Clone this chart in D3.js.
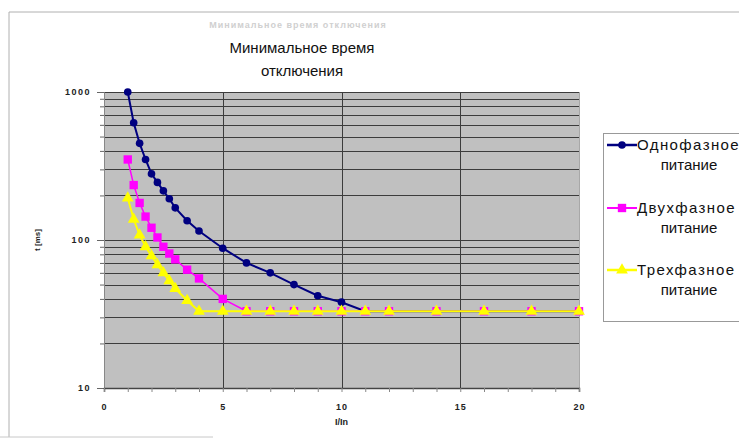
<!DOCTYPE html>
<html>
<head>
<meta charset="utf-8">
<script src="https://cdn.jsdelivr.net/npm/d3@7"></script>
<style>
  body { margin: 0; background: #fff; }
  svg { display: block; font-family: "Liberation Sans", Arial, sans-serif; }
</style>
</head>
<body>
<div id="chart"></div>
<script>
// Minimum trip time vs I/In, log time axis

const currentRatio = [1, 1.25, 1.5, 1.75, 2, 2.25, 2.5, 2.75, 3, 3.5, 4, 5, 6, 7, 8, 9, 10, 11, 12, 14, 16, 18, 20];
const singlePhase = [1000, 620, 450, 350, 280, 245, 215, 190, 165, 135, 115, 88, 70, 60, 50, 42, 38, 33, 33, 33, 33, 33, 33];
const twoPhase = [350, 235, 178, 144, 121, 104, 90, 81, 74, 63, 55, 40, 33, 33, 33, 33, 33, 33, 33, 33, 33, 33, 33];
const threePhase = [192, 138, 108, 90, 78, 68, 60, 53, 47, 39, 33, 33, 33, 33, 33, 33, 33, 33, 33, 33, 33, 33, 33];

const seriesNames = [["Однофазное", "питание"], ["Двухфазное", "питание"], ["Трехфазное", "питание"]];
const xTicks = [0, 5, 10, 15, 20];
const yTicks = [10, 100, 1000];

const width = 739, height = 440;
const plot = { left: 104, right: 579, top: 92, bottom: 388 };

const svg = d3.select("#chart").append("svg")
    .attr("width", width)
    .attr("height", height);

// outer chart frame
svg.append("path")
    .attr("d", "M9,437 L9,12 L745,12")
    .attr("fill", "none")
    .attr("stroke", "#b0b0b0");
svg.append("line")
    .attr("x1", 0).attr("x2", 213).attr("y1", 437).attr("y2", 437)
    .attr("stroke", "#c8c8c8");

const x = d3.scaleLinear().domain([0, 20]).range([plot.left, plot.right]);
const y = d3.scaleLog().domain([10, 1000]).range([plot.bottom, plot.top]);

svg.append("rect")
    .attr("x", plot.left).attr("y", plot.top)
    .attr("width", plot.right - plot.left)
    .attr("height", plot.bottom - plot.top)
    .attr("fill", "#c0c0c0");

// horizontal log grid lines
const gridValues = [];
[10, 100].forEach(dec => { for (let i = 1; i <= 9; i++) gridValues.push(dec * i); });
gridValues.push(1000);

svg.append("g").selectAll("line")
    .data(gridValues.filter(v => v > 10))
    .enter().append("line")
    .attr("x1", plot.left).attr("x2", plot.right)
    .attr("y1", d => Math.round(y(d)) + 0.5).attr("y2", d => Math.round(y(d)) + 0.5)
    .attr("stroke", "#3c3c3c")
    .attr("stroke-width", 1);

svg.append("g").selectAll("line")
    .data([5, 10, 15])
    .enter().append("line")
    .attr("x1", d => Math.round(x(d)) + 0.5).attr("x2", d => Math.round(x(d)) + 0.5)
    .attr("y1", plot.top).attr("y2", plot.bottom)
    .attr("stroke", "#3c3c3c");

// right border of plot
svg.append("line")
    .attr("x1", plot.right + 0.5).attr("x2", plot.right + 0.5)
    .attr("y1", plot.top).attr("y2", plot.bottom)
    .attr("stroke", "#a8a8a8");

// axes
const yAxis = d3.axisLeft(y)
    .tickValues(gridValues)
    .tickSize(4)
    .tickFormat(d => yTicks.includes(d) ? d : "");
const gy = svg.append("g")
    .attr("transform", `translate(${plot.left},0)`)
    .call(yAxis);
gy.selectAll(".tick line").attr("stroke", "#666")
    .attr("x2", d => yTicks.includes(d) ? -7 : -4);
gy.select(".domain").attr("stroke", "#888");
gy.selectAll("text")
    .attr("x", -13)
    .attr("font-size", 9)
    .attr("font-weight", "bold")
    .attr("letter-spacing", 1.5)
    .attr("fill", "#222");

const xAxis = d3.axisBottom(x)
    .tickValues(d3.range(0, 21))
    .tickSize(4)
    .tickFormat(d => xTicks.includes(d) ? d : "");
const gx = svg.append("g")
    .attr("transform", `translate(0,${plot.bottom})`)
    .call(xAxis);
gx.selectAll(".tick line").attr("stroke", "#888");
gx.select(".domain").attr("stroke", "#444").attr("stroke-width", 1.5);
gx.selectAll("text")
    .attr("y", 16)
    .attr("font-size", 9)
    .attr("font-weight", "bold")
    .attr("letter-spacing", 1)
    .attr("fill", "#222");

svg.append("text")
    .attr("x", (plot.left + plot.right) / 2)
    .attr("y", 425)
    .attr("text-anchor", "middle")
    .attr("font-size", 9)
    .attr("font-weight", "bold")
    .attr("fill", "#222")
    .text("I/In");

svg.append("text")
    .attr("transform", "translate(40,240) rotate(-90)")
    .attr("text-anchor", "middle")
    .attr("font-size", 8)
    .attr("font-weight", "bold")
    .attr("fill", "#222")
    .text("t [ms]");

// series
const series = [
    { values: singlePhase, color: "#000080", width: 2, shape: d3.symbolCircle, size: 46 },
    { values: twoPhase, color: "#ff00ff", width: 1.5, shape: d3.symbolSquare, size: 70 },
    { values: threePhase, color: "#ffff00", width: 2, shape: d3.symbolTriangle, size: 60 }
];

const line = d3.line()
    .x(d => x(d[0]))
    .y(d => y(d[1]));

series.forEach(s => {
    const pts = currentRatio.map((c, i) => [c, s.values[i]]);
    svg.append("path")
        .datum(pts)
        .attr("d", line)
        .attr("fill", "none")
        .attr("stroke", s.color)
        .attr("stroke-width", s.width);
    svg.append("g").selectAll("path")
        .data(pts)
        .enter().append("path")
        .attr("transform", d => `translate(${x(d[0])},${y(d[1])})`)
        .attr("d", d3.symbol().type(s.shape).size(s.size))
        .attr("fill", s.color);
});

// title (faint smaller caption peeking above the white box)
svg.append("text")
    .attr("x", 298).attr("y", 28)
    .attr("text-anchor", "middle")
    .attr("font-size", 9)
    .attr("font-weight", "bold")
    .attr("letter-spacing", 1)
    .attr("fill", "#d0d0d0")
    .text("Минимальное время отключения");
svg.append("rect")
    .attr("x", 200).attr("y", 30)
    .attr("width", 145).attr("height", 58)
    .attr("fill", "#fff");
svg.append("text")
    .attr("x", 302).attr("y", 53)
    .attr("text-anchor", "middle")
    .attr("font-size", 15)
    .attr("fill", "#111")
    .text("Минимальное время");
svg.append("text")
    .attr("x", 302).attr("y", 76)
    .attr("text-anchor", "middle")
    .attr("font-size", 15)
    .attr("fill", "#111")
    .text("отключения");

// legend
const legend = svg.append("g");
legend.append("rect")
    .attr("x", 603.5).attr("y", 133.5)
    .attr("width", 160).attr("height", 188)
    .attr("fill", "#fff")
    .attr("stroke", "#999");

const legendY = [145, 208, 270];
series.forEach((s, i) => {
    const g = legend.append("g").attr("transform", `translate(0,${legendY[i]})`);
    g.append("line")
        .attr("x1", 607).attr("x2", 637)
        .attr("stroke", s.color)
        .attr("stroke-width", s.width + 0.5);
    g.append("path")
        .attr("transform", "translate(622,0)")
        .attr("d", d3.symbol().type(s.shape).size(s.size))
        .attr("fill", s.color);
    g.append("text")
        .attr("x", 637).attr("y", 5)
        .attr("font-size", 15)
        .attr("letter-spacing", 1.4)
        .attr("fill", "#111")
        .text(seriesNames[i][0]);
    g.append("text")
        .attr("x", 689).attr("y", 25)
        .attr("text-anchor", "middle")
        .attr("font-size", 15)
        .attr("fill", "#111")
        .text(seriesNames[i][1]);
});
</script>
</body>
</html>
